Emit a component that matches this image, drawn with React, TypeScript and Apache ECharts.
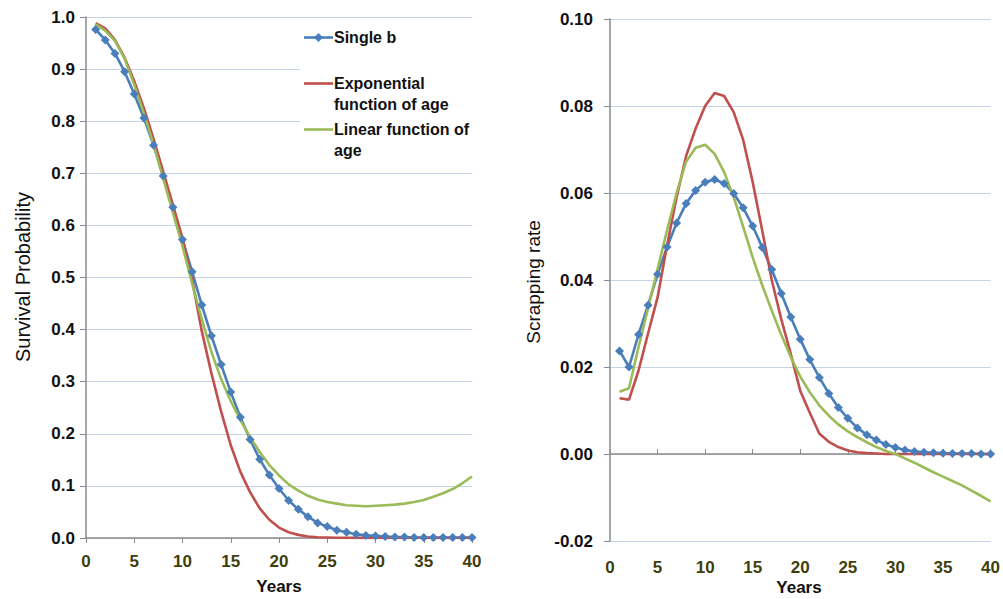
import React, { useEffect, useRef } from "react";
import * as echarts from "echarts";

// Vehicle age in years
const years = [
  1, 2, 3, 4, 5, 6, 7, 8, 9, 10, 11, 12, 13, 14, 15, 16, 17, 18, 19, 20,
  21, 22, 23, 24, 25, 26, 27, 28, 29, 30, 31, 32, 33, 34, 35, 36, 37, 38, 39, 40,
];

// Survival probability by model
const survSingleB = [
  0.976, 0.956, 0.93, 0.895, 0.852, 0.806, 0.754, 0.695, 0.635, 0.573,
  0.511, 0.447, 0.388, 0.333, 0.28, 0.232, 0.189, 0.151, 0.121, 0.095,
  0.072, 0.055, 0.041, 0.029, 0.022, 0.015, 0.011, 0.007, 0.005, 0.004,
  0.003, 0.002, 0.002, 0.001, 0.001, 0.001, 0.001, 0.001, 0.001, 0.001,
];
const survExponential = [
  0.988, 0.978, 0.956, 0.922, 0.877, 0.825, 0.766, 0.703, 0.64, 0.575,
  0.495, 0.397, 0.316, 0.243, 0.178, 0.127, 0.088, 0.057, 0.035, 0.02,
  0.011, 0.006, 0.003, 0.0015, 0.001, 0.0005, 0.0003, 0.0002, 0.0001, 0,
  0, 0, 0, 0, 0, 0, 0, 0, 0, 0,
];
const survLinear = [
  0.986, 0.974, 0.954, 0.92, 0.87, 0.815, 0.755, 0.69, 0.625, 0.56,
  0.488, 0.42, 0.357, 0.305, 0.263, 0.226, 0.194, 0.165, 0.14, 0.12,
  0.103, 0.091, 0.081, 0.074, 0.069, 0.066, 0.063, 0.062, 0.061, 0.062,
  0.063, 0.064, 0.066, 0.069, 0.073, 0.079, 0.086, 0.094, 0.105, 0.118,
];

// Scrapping rate by model
const rateSingleB = [
  0.0237, 0.02, 0.0275, 0.0342, 0.0413, 0.0476, 0.0531, 0.0576, 0.0606, 0.0625,
  0.0631, 0.0622, 0.0599, 0.0566, 0.0524, 0.0475, 0.0424, 0.0369, 0.0315, 0.0264,
  0.0217, 0.0176, 0.0139, 0.0107, 0.0082, 0.006, 0.0044, 0.0032, 0.0022, 0.0015,
  0.0009, 0.0006, 0.0004, 0.0003, 0.0002, 0.0001, 0.0001, 0.0001, 0, 0,
];
const rateExponential = [
  0.0128, 0.0125, 0.0192, 0.0277, 0.036, 0.048, 0.059, 0.0685, 0.0748, 0.08,
  0.083, 0.0823, 0.0786, 0.0722, 0.0625, 0.0514, 0.04, 0.031, 0.023, 0.0145,
  0.0095, 0.0047, 0.0028, 0.0016, 0.0008, 0.0004, 0.0002, 0.0001, 0, 0,
  0, 0, 0, 0, 0, 0, 0, 0, 0, 0,
];
const rateLinear = [
  0.0143, 0.0151, 0.0246, 0.0335, 0.0425, 0.0515, 0.06, 0.0672, 0.0704, 0.0711,
  0.069, 0.0648, 0.0591, 0.0522, 0.0452, 0.0388, 0.033, 0.0274, 0.0223, 0.0178,
  0.0142, 0.0112, 0.0088, 0.0068, 0.0052, 0.0039, 0.0027, 0.0016, 0.0007, 0,
  -0.001, -0.002, -0.0031, -0.0042, -0.0052, -0.0062, -0.0072, -0.0084, -0.0096, -0.0109,
];

const seriesNames = ["Single b", "Exponential function of age", "Linear function of age"];
const xTicks = { min: 0, max: 40, interval: 5 };
const survTicks = { min: 0, max: 1, interval: 0.1 };
const rateTicks = { min: -0.02, max: 0.1, interval: 0.02 };

const BLUE = "#4a7ebb";
const RED = "#c0504d";
const GREEN = "#9bbb59";
const GRID_LINE = "#c4d2ea";
const AXIS_LINE = "#8a8a8a";
const XLABEL = "#3f3e0c";
const FONT = "'Liberation Sans', Arial, sans-serif";

const pairs = (ys: number[]) => years.map((x, i) => [x, ys[i]]);

function buildOption(): echarts.EChartsOption {
  const xLabel = {
    color: XLABEL,
    fontSize: 17,
    fontWeight: "bold" as const,
    fontFamily: FONT,
  };
  const yLabel = {
    color: "#111",
    fontSize: 17,
    fontWeight: "bold" as const,
    fontFamily: FONT,
  };

  const lineSeries = (
    name: string,
    data: number[],
    color: string,
    xi: number,
    yi: number,
    marker: boolean
  ) => ({
    type: "line" as const,
    name,
    data: pairs(data),
    xAxisIndex: xi,
    yAxisIndex: yi,
    smooth: false,
    showSymbol: marker,
    symbol: marker ? "diamond" : "none",
    symbolSize: 9,
    lineStyle: { color, width: 2.6 },
    itemStyle: { color },
    emphasis: { disabled: true },
  });

  const legendText = (text: string, x: number, y: number) => ({
    type: "text" as const,
    x,
    y,
    z: 20,
    style: {
      text,
      fill: "#111",
      fontSize: 16,
      fontWeight: "bold",
      fontFamily: FONT,
      align: "left",
      verticalAlign: "middle",
    },
  });
  const legendLine = (color: string, y: number) => ({
    type: "line" as const,
    z: 20,
    shape: { x1: 304, y1: y, x2: 333, y2: y },
    style: { stroke: color, lineWidth: 2.6 },
  });

  return {
    animation: false,
    backgroundColor: "#ffffff",
    grid: [
      { left: 86, top: 17, width: 386, height: 521 },
      { left: 610, top: 19, width: 383, height: 522 },
    ],
    xAxis: [
      {
        type: "value",
        gridIndex: 0,
        ...xTicks,
        axisLine: { show: true, lineStyle: { color: AXIS_LINE, width: 1.5 } },
        axisTick: { show: true, length: 5, lineStyle: { color: AXIS_LINE } },
        axisLabel: { ...xLabel, margin: 15 },
        splitLine: { show: false },
      },
      {
        type: "value",
        gridIndex: 1,
        ...xTicks,
        position: "bottom",
        axisLine: { show: false, onZero: false },
        axisTick: { show: false },
        axisLabel: { ...xLabel, margin: 18 },
        splitLine: { show: false },
      },
      {
        type: "value",
        gridIndex: 1,
        ...xTicks,
        axisLine: { show: true, onZero: true, lineStyle: { color: AXIS_LINE, width: 1.5 } },
        axisTick: { show: true, length: 5, lineStyle: { color: AXIS_LINE } },
        axisLabel: { show: false },
        splitLine: { show: false },
      },
    ],
    yAxis: [
      {
        type: "value",
        gridIndex: 0,
        ...survTicks,
        axisLine: { show: true, lineStyle: { color: AXIS_LINE, width: 1.5 } },
        axisTick: { show: true, length: 6, lineStyle: { color: AXIS_LINE } },
        axisLabel: { ...yLabel, margin: 11, formatter: (v: number) => v.toFixed(1) },
        splitLine: { show: true, lineStyle: { color: GRID_LINE, width: 1 } },
      },
      {
        type: "value",
        gridIndex: 1,
        ...rateTicks,
        axisLine: { show: true, onZero: false, lineStyle: { color: AXIS_LINE, width: 1.5 } },
        axisTick: { show: true, length: 6, lineStyle: { color: AXIS_LINE } },
        axisLabel: {
          ...yLabel,
          margin: 17,
          formatter: (v: number) => (Math.abs(v) < 1e-9 ? 0 : v).toFixed(2),
        },
        splitLine: { show: true, lineStyle: { color: GRID_LINE, width: 1 } },
      },
    ],
    series: [
      lineSeries(seriesNames[0], survSingleB, BLUE, 0, 0, true),
      lineSeries(seriesNames[1], survExponential, RED, 0, 0, false),
      lineSeries(seriesNames[2], survLinear, GREEN, 0, 0, false),
      lineSeries(seriesNames[0], rateSingleB, BLUE, 1, 1, true),
      lineSeries(seriesNames[1], rateExponential, RED, 1, 1, false),
      lineSeries(seriesNames[2], rateLinear, GREEN, 1, 1, false),
    ],
    graphic: [
      // legend panel over the survival plot
      {
        type: "rect",
        z: 15,
        shape: { x: 300, y: 23, width: 174, height: 144 },
        style: { fill: "#ffffff" },
      },
      legendLine(BLUE, 37.5),
      {
        type: "polygon",
        z: 21,
        shape: {
          points: [
            [318.5, 33],
            [323, 37.5],
            [318.5, 42],
            [314, 37.5],
          ],
        },
        style: { fill: BLUE },
      },
      legendText("Single b", 334, 37.5),
      legendLine(RED, 83.5),
      legendText("Exponential", 334, 83.5),
      legendText("function of age", 334, 104),
      legendLine(GREEN, 129.5),
      legendText("Linear function of", 334, 129.5),
      legendText("age", 334, 150),
      // axis titles
      {
        type: "text",
        x: 22.5,
        y: 277,
        rotation: Math.PI / 2,
        style: {
          text: "Survival Probability",
          fill: "#111",
          fontSize: 20,
          fontFamily: FONT,
          align: "center",
          verticalAlign: "middle",
        },
      },
      {
        type: "text",
        x: 533,
        y: 282,
        rotation: Math.PI / 2,
        style: {
          text: "Scrapping rate",
          fill: "#111",
          fontSize: 19,
          fontFamily: FONT,
          align: "center",
          verticalAlign: "middle",
        },
      },
      {
        type: "text",
        x: 279,
        y: 586.5,
        style: {
          text: "Years",
          fill: "#111",
          fontSize: 17,
          fontWeight: "bold",
          fontFamily: FONT,
          align: "center",
          verticalAlign: "middle",
        },
      },
      {
        type: "text",
        x: 799,
        y: 587.5,
        style: {
          text: "Years",
          fill: "#111",
          fontSize: 17,
          fontWeight: "bold",
          fontFamily: FONT,
          align: "center",
          verticalAlign: "middle",
        },
      },
    ],
  };
}

export default function App() {
  const ref = useRef<HTMLDivElement>(null);
  useEffect(() => {
    if (!ref.current) return;
    const chart = echarts.init(ref.current, undefined, { renderer: "svg" });
    chart.setOption(buildOption());
    return () => chart.dispose();
  }, []);
  return (
    <div
      ref={ref}
      style={{ position: "absolute", left: 0, top: 0, width: 1003, height: 599, background: "#fff" }}
    />
  );
}
